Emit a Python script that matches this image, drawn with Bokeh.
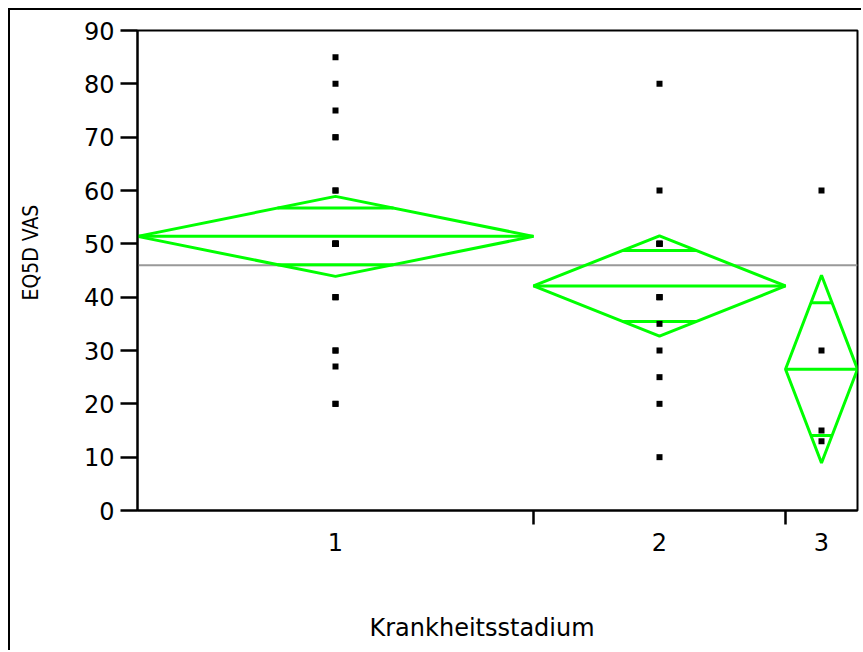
import numpy as np
from bokeh.plotting import figure
from bokeh.models import Range1d, FixedTicker, Title
from bokeh.embed import file_html
from bokeh.resources import INLINE

# EQ5D VAS scores by disease stage (Krankheitsstadium)
stages = ["1", "2", "3"]
stage1_vas = [85, 80, 75, 70, 70, 60, 60, 50, 50, 50, 50, 50, 50, 50,
              40, 40, 40, 30, 30, 27, 20, 20]
stage2_vas = [80, 60, 50, 50, 50, 50, 40, 40, 40, 35, 30, 25, 20, 10]
stage3_vas = [60, 30, 15, 13]

# means diamond summaries per stage
group_n = [22, 14, 4]
group_mean = [51.4, 42.1, 26.5]
group_ci = [7.5, 9.4, 17.6]      # 95% CI half width
grand_mean = 46.0
y_ticks = list(range(0, 91, 10))

FONT = "DejaVu Sans"
GREEN = "#00ff00"
PAD = 10   # report frame inset (margin + border)

edges = np.concatenate([[0], np.cumsum(group_n)]).astype(float)
lefts, rights = edges[:-1], edges[1:]
centers = (lefts + rights) / 2
total = edges[-1]

p = figure(width=863 - PAD, height=652 - PAD, output_backend="svg",
           toolbar_location=None,
           x_range=Range1d(0, total), y_range=Range1d(0, 90),
           min_border_left=137 - PAD, min_border_right=6,
           min_border_top=30 - PAD, min_border_bottom=142)
p.styles = {"border-left": "2px solid black", "border-top": "2px solid black",
            "margin-left": "8px", "margin-top": "8px"}
p.grid.visible = False
p.outline_line_color = "black"
p.outline_line_width = 2
p.background_fill_color = "white"
p.border_fill_color = "white"

# y axis (blank axis label reserves room before the title)
ya = p.yaxis[0]
ya.ticker = FixedTicker(ticks=y_ticks)
ya.major_tick_out = 17
ya.major_tick_in = 0
ya.minor_tick_out = 0
ya.minor_tick_in = 0
ya.axis_line_width = 2
ya.major_tick_line_width = 2.5
ya.major_label_standoff = 6
ya.major_label_text_font = FONT
ya.major_label_text_font_size = "24px"
ya.major_label_text_color = "black"
ya.axis_label = " "
ya.axis_label_text_font_size = "21px"
ya.axis_label_standoff = 6

# x axis: labels at stage centres, ticks at stage boundaries
xa = p.xaxis[0]
xa.ticker = FixedTicker(ticks=list(centers), minor_ticks=list(edges[1:-1]))
xa.major_label_overrides = {float(c): s for c, s in zip(centers, stages)}
xa.major_tick_line_color = None
xa.major_tick_out = 0
xa.major_tick_in = 0
xa.minor_tick_out = 14
xa.minor_tick_in = 0
xa.minor_tick_line_width = 2.5
xa.minor_tick_line_color = "black"
xa.axis_line_width = 2
xa.major_label_standoff = 8
xa.major_label_text_font = FONT
xa.major_label_text_font_size = "24px"
xa.major_label_text_color = "black"
xa.axis_label = " "
xa.axis_label_text_font_size = "24px"
xa.axis_label_standoff = 23

# axis titles
p.add_layout(Title(text="Krankheitsstadium", align="left", offset=232, standoff=10,
                   text_font=FONT, text_font_size="24px", text_font_style="normal",
                   text_color="black"), "below")
p.add_layout(Title(text="EQ5D VAS", align="left", offset=210, standoff=12,
                   text_font="DejaVu Sans Condensed", text_font_size="21px",
                   text_font_style="normal", text_color="black"), "left")

# grand mean reference line
p.segment(x0=[0], y0=[grand_mean], x1=[total], y1=[grand_mean],
          line_color="#999999", line_width=2)

# means diamonds
xs, ys = [], []
for l, r, c, m, h in zip(lefts, rights, centers, group_mean, group_ci):
    xs.append([l, c, r, c, l])
    ys.append([m, m + h, m, m - h, m])
p.patches(xs, ys, fill_color=None, line_color=GREEN, line_width=3)

# mean lines across each group
p.segment(x0=lefts, y0=group_mean, x1=rights, y1=group_mean,
          line_color=GREEN, line_width=3)

# overlap marks at mean +/- ci/sqrt(2)
k = np.sqrt(2) / 2
half_w = (rights - lefts) / 2 * (1 - k)
om_x0, om_x1, om_y = [], [], []
for c, hw, m, h in zip(centers, half_w, group_mean, group_ci):
    for sgn in (1, -1):
        om_x0.append(c - hw)
        om_x1.append(c + hw)
        om_y.append(m + sgn * k * h)
p.segment(x0=om_x0, y0=om_y, x1=om_x1, y1=om_y, line_color=GREEN, line_width=3)

# individual observations
pts_x, pts_y = [], []
for c, vals in zip(centers, [stage1_vas, stage2_vas, stage3_vas]):
    pts_x += [c] * len(vals)
    pts_y += vals
p.scatter(x=pts_x, y=pts_y, marker="square", size=6,
          fill_color="black", line_color="black", line_width=0)

open("out.html", "w").write(file_html(p, INLINE))
